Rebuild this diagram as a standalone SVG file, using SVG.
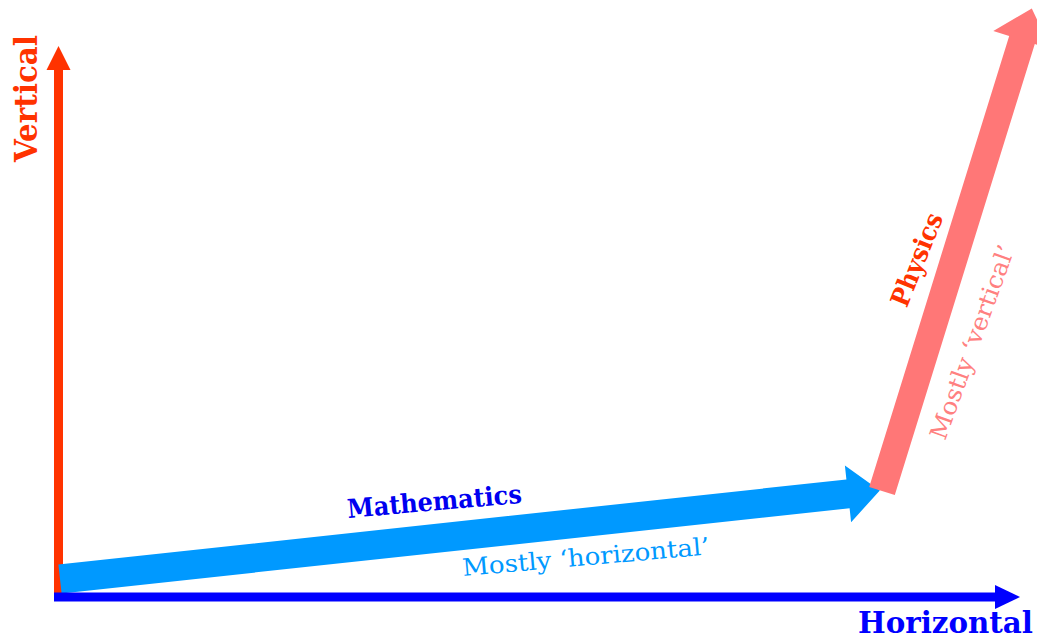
<svg xmlns="http://www.w3.org/2000/svg" width="1037" height="639" viewBox="0 0 1037 639">
  <style>
    .lbl { font-family: "DejaVu Serif", "Liberation Serif", serif; }
    .b { font-weight: bold; }
  </style>
  <rect width="1037" height="639" fill="#ffffff"/>
  <g id="connectors">
    <g id="vertical-axis">
      <line x1="58.5" y1="597" x2="58.5" y2="68" stroke="#FF3300" stroke-width="9"/>
      <polygon points="58.5,46 70.5,70 46.5,70" fill="#FF3300"/>
    </g>
    <g id="mathematics-arrow">
      <polygon points="58.4,564.6 846.4,479.5 844.9,465.6 879.8,490.5 851.1,522.2 849.6,508.3 61.6,593.4" fill="#0099FF"/>
    </g>
    <g id="horizontal-axis">
      <line x1="54" y1="597" x2="997" y2="597" stroke="#0000FF" stroke-width="9"/>
      <polygon points="1020,597 995,585 995,609" fill="#0000FF"/>
    </g>
    <g id="physics-arrow">
      <polygon points="869.2,487 1009.2,36 993.3,31.1 1031.8,8.5 1050.7,48.9 1034.8,44 894.8,495" fill="#FF7777"/>
    </g>
  </g>
  <g id="label-vertical">
    <text class="lbl b" x="0" y="0" transform="translate(37,162) rotate(-90)" font-size="31" fill="#FF3300" textLength="127" lengthAdjust="spacingAndGlyphs">Vertical</text>
  </g>
  <g id="label-horizontal">
    <text class="lbl b" x="858" y="633" font-size="29" fill="#0000FF" textLength="175" lengthAdjust="spacingAndGlyphs">Horizontal</text>
  </g>
  <g id="label-mathematics">
    <text class="lbl b" x="0" y="0" transform="translate(348,518) rotate(-5)" font-size="26" fill="#0000F0" textLength="175" lengthAdjust="spacingAndGlyphs">Mathematics</text>
  </g>
  <g id="label-mostly-horizontal">
    <text class="lbl" x="0" y="0" transform="translate(463,576) rotate(-5)" font-size="24" fill="#0099FF" textLength="248" lengthAdjust="spacingAndGlyphs">Mostly ‘horizontal’</text>
  </g>
  <g id="label-physics">
    <text class="lbl b" x="0" y="0" transform="translate(925,263) rotate(-68)" text-anchor="middle" font-size="26" fill="#FF3300" textLength="98" lengthAdjust="spacingAndGlyphs">Physics</text>
  </g>
  <g id="label-mostly-vertical">
    <text class="lbl" x="0" y="0" transform="translate(980,345) rotate(-70)" text-anchor="middle" font-size="24" fill="#FF8080" textLength="205" lengthAdjust="spacingAndGlyphs">Mostly ‘vertical’</text>
  </g>
</svg>
